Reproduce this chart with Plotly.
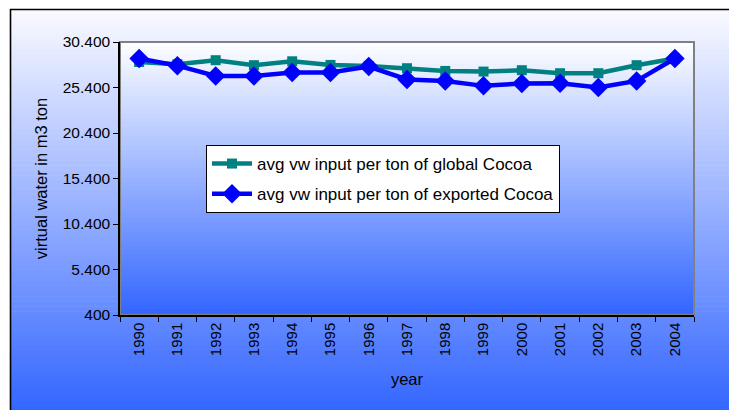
import plotly.graph_objects as go

years = ["1990", "1991", "1992", "1993", "1994", "1995", "1996", "1997",
         "1998", "1999", "2000", "2001", "2002", "2003", "2004"]
global_cocoa = [28200, 27950, 28400, 27850, 28280, 27880, 27770, 27520,
                27220, 27150, 27300, 26970, 26970, 27850, 28580]
exported_cocoa = [28580, 27800, 26670, 26650, 27050, 27050, 27700, 26280,
                  26120, 25580, 25840, 25870, 25400, 26120, 28580]
y_ticks = [400, 5400, 10400, 15400, 20400, 25400, 30400]

FONT = "Liberation Sans, Arial, sans-serif"

FIG_W, FIG_H = 729, 410
L, R = 120, 694
T, B = 42, 315
W = R - L
H = B - T


def lerp(c0, c1, t):
    return "rgb(%d,%d,%d)" % tuple(round(a + (b - a) * t) for a, b in zip(c0, c1))


def px_x(px):
    return (px - L) / W


def px_y(py):
    return (B - py) / H


shapes = []
top_c = (250, 250, 255)
bot_c = (51, 102, 255)
n = 80
y_top, y_bot = 9, 412
X_END = 729
for i in range(n):
    a = y_top + (y_bot - y_top) * i / n
    b = y_top + (y_bot - y_top) * (i + 1) / n + 0.6
    shapes.append(dict(type="rect", xref="paper", yref="paper",
                       x0=px_x(10), x1=px_x(X_END), y0=px_y(b), y1=px_y(a),
                       fillcolor=lerp(top_c, bot_c, (i + 0.5) / n),
                       line=dict(width=0), layer="below"))
# frame: top and left edges only (others fall outside the picture)
shapes.append(dict(type="line", xref="paper", yref="paper",
                   x0=px_x(10), x1=px_x(X_END), y0=px_y(9.5), y1=px_y(9.5),
                   line=dict(width=1.6, color="black"), layer="below"))
shapes.append(dict(type="line", xref="paper", yref="paper",
                   x0=px_x(10.5), x1=px_x(10.5), y0=px_y(9), y1=px_y(410),
                   line=dict(width=1.6, color="black"), layer="below"))
top_p = (255, 255, 255)
bot_p = (51, 102, 255)
m = 60
for i in range(m):
    y0 = 1 - (i + 1) / m
    y1 = 1 - i / m + 0.004
    shapes.append(dict(type="rect", xref="paper", yref="paper",
                       x0=0, x1=1, y0=y0, y1=min(y1, 1),
                       fillcolor=lerp(top_p, bot_p, (i + 0.5) / m),
                       line=dict(width=0), layer="below"))
shapes.append(dict(type="rect", xref="paper", yref="paper", x0=0, x1=1, y0=0, y1=1,
                   fillcolor="rgba(0,0,0,0)", line=dict(width=2, color="#808080"),
                   layer="below"))

fig = go.Figure()
fig.add_trace(go.Scatter(
    x=years, y=global_cocoa, mode="lines+markers",
    name="avg vw input per ton of global Cocoa", legendgroup="g",
    line=dict(color="#008080", width=4.5),
    marker=dict(symbol="square", size=10, color="#008080"),
))
fig.add_trace(go.Scatter(
    x=years, y=exported_cocoa, mode="lines+markers",
    name="avg vw input per ton of exported Cocoa", legendgroup="e",
    line=dict(color="#0000FF", width=4.5),
    marker=dict(symbol="diamond", size=15, color="#0000FF"),
))

fig.update_layout(
    width=FIG_W, height=FIG_H,
    margin=dict(l=L, r=FIG_W - R, t=T, b=FIG_H - B, autoexpand=False),
    paper_bgcolor="white", plot_bgcolor="rgba(0,0,0,0)",
    separators=",.",
    font=dict(family=FONT, size=15, color="black"),
    shapes=shapes,
    showlegend=True,
    legend=dict(x=px_x(206), y=px_y(145), xanchor="left", yanchor="top",
                bgcolor="white", bordercolor="black", borderwidth=1,
                font=dict(family=FONT, size=17), tracegroupgap=5,
                traceorder="grouped", itemwidth=40),
    xaxis=dict(
        type="category", tickangle=-90, tickson="boundaries",
        ticks="outside", ticklen=5, tickcolor="black",
        showline=True, linecolor="black", linewidth=1.5,
        showgrid=False, zeroline=False,
        title=dict(text="year", font=dict(family=FONT, size=16.5), standoff=18),
        tickfont=dict(family=FONT, size=15),
        range=[-0.5, len(years) - 0.5],
    ),
    yaxis=dict(
        range=[400, 30400], tickvals=y_ticks, tickformat=",d",
        ticks="outside", ticklen=5, tickcolor="black",
        showline=True, linecolor="black", linewidth=1.5,
        showgrid=False, zeroline=False,
        title=dict(text="virtual water in m3 ton", font=dict(family=FONT, size=16.5), standoff=11),
        tickfont=dict(family=FONT, size=15.5),
    ),
)

fig.write_html(
    "out.html",
    config={"displayModeBar": False},
    post_script="document.body.style.margin='0';document.body.style.overflow='hidden';",
)
